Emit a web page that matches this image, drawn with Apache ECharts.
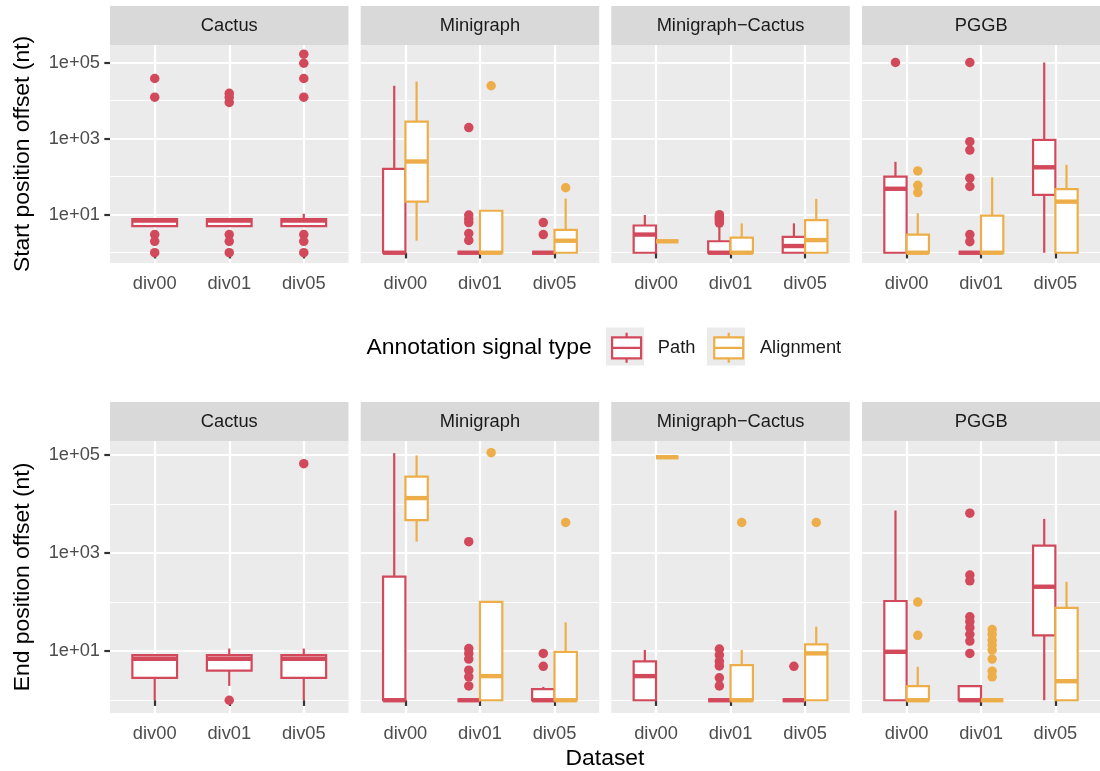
<!DOCTYPE html>
<html><head><meta charset="utf-8">
<script src="https://cdn.jsdelivr.net/npm/echarts@6/dist/echarts.min.js"></script>
<style>html,body{margin:0;padding:0;background:#fff}#chart{width:1100px;height:771px}</style>
</head><body><div id="chart"></div>
<script>
// ---------- data ----------
const datasets = ['div00', 'div01', 'div05'];
const methods = ['Cactus', 'Minigraph', 'Minigraph\u2212Cactus', 'PGGB'];
const signalTypes = ['Path', 'Alignment'];
const yTickValues = [10, 1000, 100000];
const yTickLabels = ['1e+01', '1e+03', '1e+05'];
const yMinorValues = [1, 100, 10000];

// boxes: [lower whisker, Q1, median, Q3, upper whisker] per method, per dataset
const startPathBoxes = [
  [[5, 5, 7, 7.6, 7.6], [5, 5, 7, 7.6, 7.6], [5, 5, 7, 7.6, 10.6]],
  [[1, 1, 1, 160, 24500], [1, 1, 1, 1, 1], [1, 1, 1, 1, 1]],
  [[1, 1, 3, 5.2, 9.8], [1, 1, 1, 2, 5], [1, 1, 1.5, 2.6, 5.9]],
  [[1, 1, 48, 100, 245], [1, 1, 1, 1, 1], [1, 33, 176, 920, 100000]]
];
const startAlignBoxes = [
  null,
  [[2.07, 22, 250, 2800, 31600], [1, 1, 1, 12.7, 12.7], [1, 1, 2.07, 4, 26.4]],
  [[2, 2, 2, 2, 2], [1, 1, 1, 2.5, 5.9], [1, 1, 2.15, 7.2, 26]],
  [[1, 1, 1, 3, 10.9], [1, 1, 1, 9.4, 96], [1, 1, 22, 47, 204]]
];
const startPathOutliers = [
  [[38000, 12300, 3, 2, 1], [15500, 12300, 8900, 3, 2, 1], [166000, 95500, 38000, 12300, 3, 2, 1]],
  [[], [1950, 9.8, 7.7, 6.2, 3.2, 2.1], [6.2, 3]],
  [[], [10, 9, 8, 7, 6], []],
  [[100000], [100000, 830, 500, 91, 55, 3, 1.95], []]
];
const startAlignOutliers = [
  null,
  [[], [24500], [51]],
  [[], [], []],
  [[141, 59, 38], [], []]
];

const endPathBoxes = [
  [[1, 2.85, 7, 8.3, 8.3], [1.96, 4, 7, 8.3, 11.3], [1, 2.85, 7, 8.3, 11.3]],
  [[1, 1, 1, 330, 108000], [1, 1, 1, 1, 1], [1, 1, 1, 1.68, 1.87]],
  [[1, 1, 3.1, 6.2, 10.6], [1, 1, 1, 1, 1], [1, 1, 1, 1, 1]],
  [[1, 1, 9.7, 105, 7300], [1, 1, 1, 1.93, 1.93], [1, 21, 205, 1410, 4940]]
];
const endAlignBoxes = [
  null,
  [[1700, 4650, 13100, 36000, 97000], [1, 1, 3.1, 101, 101], [1, 1, 1, 9.7, 38.5]],
  [[89000, 89000, 89000, 89000, 89000], [1, 1, 1, 5.2, 10.6], [1, 1, 9, 13.7, 31.4]],
  [[1, 1, 1, 1.93, 4.8], [1, 1, 1, 1, 1], [1, 1, 2.44, 76, 259]]
];
const endPathOutliers = [
  [[], [1], [65700]],
  [[], [1700, 11.3, 9, 6.9, 4.1, 3, 1.96], [9, 4.9]],
  [[], [11, 8.3, 6.2, 5, 2.86, 1.96], [4.9]],
  [[], [6460, 355, 270, 50, 40, 30, 22, 16, 9], []]
];
const endAlignOutliers = [
  null,
  [[], [110000], [4170]],
  [[], [4170], [4170]],
  [[100, 21], [27.5, 22, 16.7, 13.3, 10.5, 6.9, 3.9, 3], []]
];

// ---------- styling / layout ----------
const FONT = '"Liberation Sans", Arial, Helvetica, sans-serif';
const COLORS = { Path: '#d1495b', Alignment: '#edae49' };
const LW = 2.2, MW = 4.4, PT = 9.5;
const colLeft = [110, 360.7, 611.3, 862];
const panelW = 238.5;
const rows = [
  { top: 45, height: 218, strip: 6, ymin: -0.27, ymax: 5.46, title: 'Start position offset (nt)',
    boxes: { Path: startPathBoxes, Alignment: startAlignBoxes },
    outliers: { Path: startPathOutliers, Alignment: startAlignOutliers } },
  { top: 441, height: 272, strip: 402, ymin: -0.26, ymax: 5.28, title: 'End position offset (nt)',
    boxes: { Path: endPathBoxes, Alignment: endAlignBoxes },
    outliers: { Path: endPathOutliers, Alignment: endAlignOutliers } }
];
const lg = Math.log10;

function renderBox(params, api) {
  const x = api.value(0);
  const w = api.size([api.value(6), 0])[0];
  const lo = api.coord([x, api.value(1)]);
  const q1 = api.coord([x, api.value(2)]);
  const md = api.coord([x, api.value(3)]);
  const q3 = api.coord([x, api.value(4)]);
  const hi = api.coord([x, api.value(5)]);
  const color = api.visual('color');
  const cx = lo[0], left = cx - w / 2;
  const vline = (y1, y2) => ({ type: 'line', shape: { x1: cx, y1: y1, x2: cx, y2: y2 }, style: { stroke: color, lineWidth: LW } });
  return { type: 'group', children: [
    vline(hi[1], q3[1]), vline(q1[1], lo[1]),
    { type: 'rect', shape: { x: left, y: q3[1], width: w, height: q1[1] - q3[1] }, style: { fill: '#fff', stroke: color, lineWidth: LW } },
    { type: 'line', shape: { x1: left, y1: md[1], x2: left + w, y2: md[1] }, style: { stroke: color, lineWidth: MW } }
  ] };
}

const grid = [], xAxis = [], yAxis = [], series = [], graphic = [];
rows.forEach((row, r) => {
  methods.forEach((m, c) => {
    const gi = r * 4 + c;
    grid.push({ left: colLeft[c], top: row.top, width: panelW, height: row.height, show: true, backgroundColor: '#EBEBEB', borderWidth: 0 });
    xAxis.push({
      type: 'value', gridIndex: gi, min: 0.4, max: 3.6,
      axisLine: { show: false },
      axisTick: { show: true, customValues: [1, 2, 3], length: 5.7, lineStyle: { color: '#333333', width: LW } },
      axisLabel: { show: true, customValues: [1, 2, 3], margin: 12, color: '#4D4D4D', fontSize: 18.3, fontFamily: FONT,
        formatter: v => datasets[Math.round(v) - 1] },
      splitLine: { show: true, lineStyle: { color: '#FFFFFF', width: LW } }
    });
    yAxis.push({
      type: 'value', gridIndex: gi, min: row.ymin, max: row.ymax, position: 'left',
      axisLine: { show: false },
      axisTick: { show: c === 0, customValues: yTickValues.map(lg), length: 5.7, lineStyle: { color: '#333333', width: LW } },
      axisLabel: { show: c === 0, customValues: yTickValues.map(lg), margin: 10, color: '#4D4D4D', fontSize: 18.3, fontFamily: FONT,
        formatter: v => yTickLabels[yTickValues.map(lg).findIndex(t => Math.abs(t - v) < 1e-6)] },
      splitLine: { show: true, lineStyle: { color: '#FFFFFF', width: LW } },
      name: c === 0 ? row.title : '', nameLocation: 'middle', nameRotate: 90, nameGap: 76,
      nameTextStyle: { fontSize: 22.9, color: '#000000', fontFamily: FONT }
    });
    yAxis.push({
      type: 'value', gridIndex: gi, min: row.ymin, max: row.ymax, position: 'left',
      axisLine: { show: false },
      axisTick: { show: false, customValues: yMinorValues.map(lg) },
      axisLabel: { show: false },
      splitLine: { show: true, lineStyle: { color: '#FFFFFF', width: LW / 2 } }
    });
    // strip
    graphic.push({ type: 'rect', z: 1, shape: { x: colLeft[c], y: row.strip, width: panelW, height: row.top - row.strip }, style: { fill: '#D9D9D9' } });
    graphic.push({ type: 'text', z: 2, x: colLeft[c] + panelW / 2, y: (row.strip + row.top) / 2 + 0.5,
      style: { text: m, fontSize: 18.3, fontFamily: FONT, fill: '#1A1A1A', align: 'center', verticalAlign: 'middle' } });

    const both = row.boxes.Alignment[c] !== null;
    signalTypes.forEach(t => {
      const boxes = row.boxes[t][c];
      const outs = row.outliers[t][c];
      if (!boxes) return;
      const off = both ? (t === 'Path' ? -0.15 : 0.15) : 0;
      const wid = both ? 0.3 : 0.6;
      series.push({
        type: 'custom', name: t, xAxisIndex: gi, yAxisIndex: gi * 2, z: 3,
        itemStyle: { color: COLORS[t] },
        renderItem: renderBox,
        encode: { x: 0, y: [1, 2, 3, 4, 5] },
        data: boxes.map((b, j) => [j + 1 + off].concat(b.map(lg)).concat([wid]))
      });
      const pts = [];
      outs.forEach((arr, j) => arr.forEach(v => pts.push([j + 1 + off, lg(v)])));
      series.push({
        type: 'scatter', name: t, xAxisIndex: gi, yAxisIndex: gi * 2, z: 4,
        symbol: 'circle', symbolSize: PT, itemStyle: { color: COLORS[t], opacity: 1 },
        data: pts
      });
    });
  });
});

// legend key backgrounds and texts
graphic.push({ type: 'rect', z: 1, shape: { x: 606, y: 327.5, width: 38, height: 38 }, style: { fill: '#EBEBEB' } });
graphic.push({ type: 'rect', z: 1, shape: { x: 707, y: 327.5, width: 38, height: 38 }, style: { fill: '#EBEBEB' } });
graphic.push({ type: 'text', z: 2, x: 366.5, y: 347.5,
  style: { text: 'Annotation signal type', fontSize: 22.9, fontFamily: FONT, fill: '#000000', align: 'left', verticalAlign: 'middle' } });
graphic.push({ type: 'text', z: 2, x: 605, y: 759,
  style: { text: 'Dataset', fontSize: 22.9, fontFamily: FONT, fill: '#000000', align: 'center', verticalAlign: 'middle' } });

const boxIcon = 'path://M14.5,0L14.5,4.5M0,4.5L29,4.5L29,25.5L0,25.5ZM0,15L29,15M14.5,25.5L14.5,30';

const chart = echarts.init(document.getElementById('chart'), null, { renderer: 'canvas', width: 1100, height: 771 });
chart.setOption({
  backgroundColor: '#FFFFFF',
  animation: false,
  grid, xAxis, yAxis, series, graphic,
  legend: {
    left: 611, top: 331.7, padding: 0, orient: 'horizontal',
    itemWidth: 29, itemHeight: 30, itemGap: 17.7, selectedMode: false, symbolKeepAspect: true,
    textStyle: { fontSize: 18.3, color: '#1A1A1A', fontFamily: FONT, padding: [0, 0, 0, 11.7] },
    data: signalTypes.map(t => ({ name: t, icon: boxIcon,
      itemStyle: { color: '#FFFFFF', borderColor: COLORS[t], borderWidth: LW } }))
  }
});
</script></body></html>
